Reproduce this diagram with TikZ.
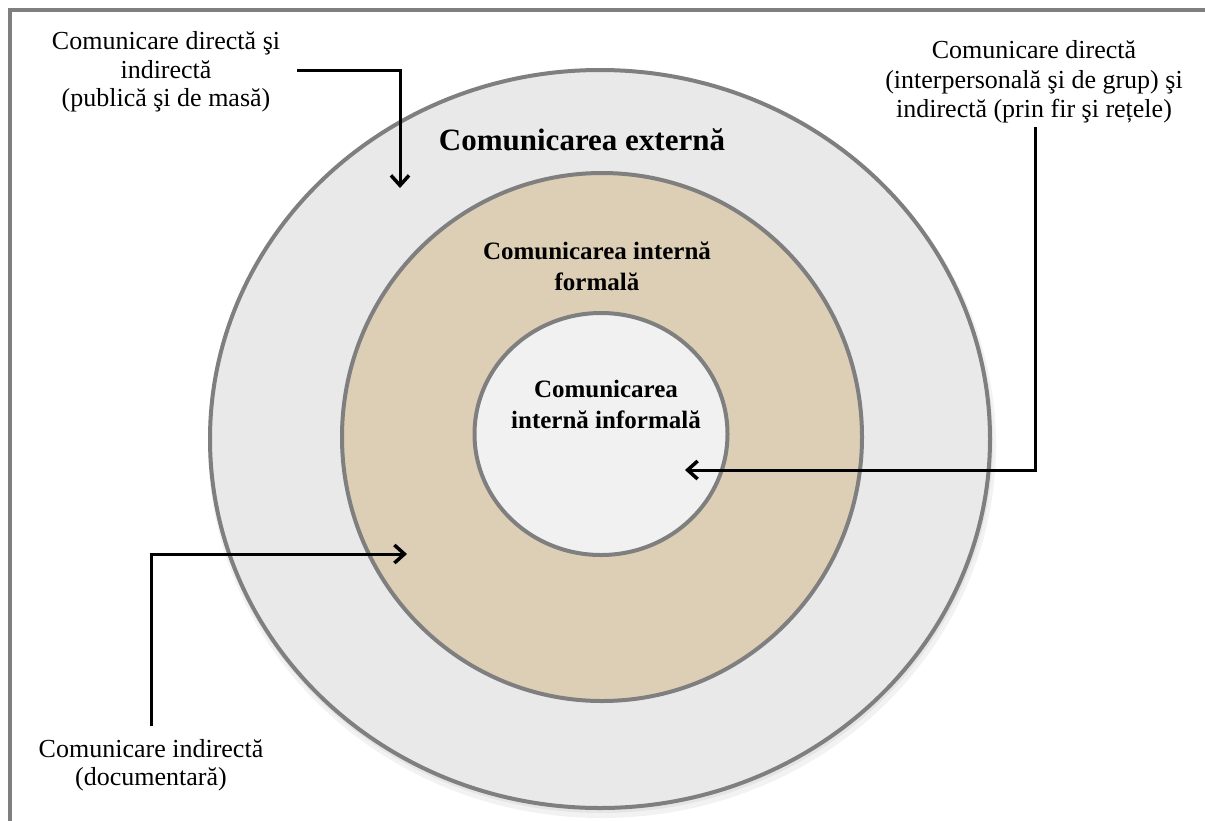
\documentclass[tikz,border=0pt]{standalone}
\usepackage{fontspec}
\setmainfont{Liberation Serif}
\usetikzlibrary{arrows.meta,shapes.geometric}
\definecolor{ringgray}{HTML}{7F7F7F}
\definecolor{outerfill}{HTML}{E9E9E9}
\definecolor{midfill}{HTML}{DDCFB5}
\definecolor{innerfill}{HTML}{F1F1F1}
\begin{document}
\begin{tikzpicture}[x=1pt,y=-1pt,
  ring/.style={ellipse, draw=ringgray, line width=4pt, inner sep=0pt},
  lbl/.style={align=center, font=\fontsize{26}{29.5}\selectfont, inner sep=0pt},
  ttl/.style={align=center, font=\bfseries\fontsize{25}{31}\selectfont, inner sep=0pt},
  conn/.style={draw=black, line width=3pt, -{Straight Barb[length=10pt,width=18pt,line width=3.5pt]}}]
\useasboundingbox (0,0) rectangle (1205,820);
\fill[white] (0,0) rectangle (1205,820);
\draw[ringgray, line width=4pt] (10,10) rectangle (1240,860);
% soft shadow
\fill[black, opacity=0.05] (602,445) ellipse (394pt and 373pt);
\fill[black, opacity=0.05] (601,442) ellipse (392pt and 371pt);
% rings
\node[ring, fill=outerfill, minimum width=780pt, minimum height=738pt] (outer) at (600,439) {};
\node[ring, fill=midfill, minimum width=520pt, minimum height=528pt] (middle) at (602,437) {};
\node[ring, fill=innerfill, minimum width=253pt, minimum height=242pt] (inner) at (601,434) {};
% titles
\node[ttl, font=\bfseries\fontsize{31}{36}\selectfont] (ext) at (582,139.5) {Comunicarea externă};
\node[ttl] (formal) at (597,266.5) {Comunicarea internă\\formală};
\node[ttl] (informal) at (606,404.5) {Comunicarea\\internă informală};
% labels
\node[lbl, font=\fontsize{26}{28.5}\selectfont] (lt) at (166,72) {Comunicare directă şi\\indirectă\\(publică şi de masă)};
\node[lbl] (rt) at (1034,82) {Comunicare directă\\(interpersonală şi de grup) şi\\indirectă (prin fir şi rețele)};
\node[lbl, font=\fontsize{26}{28}\selectfont] (lb) at (151,765) {Comunicare indirectă\\(documentară)};
% connector points
\coordinate (a1s) at (297,70);
\coordinate (a1e) at (400,188);
\coordinate (a2s) at (1035,127);
\coordinate (a2e) at (685,470);
\coordinate (a3s) at (151,726);
\coordinate (a3e) at (407,554);
\draw[conn] (a1s) -| (a1e);
\draw[conn] (a2s) |- (a2e);
\draw[conn] (a3s) |- (a3e);
\end{tikzpicture}
\end{document}
